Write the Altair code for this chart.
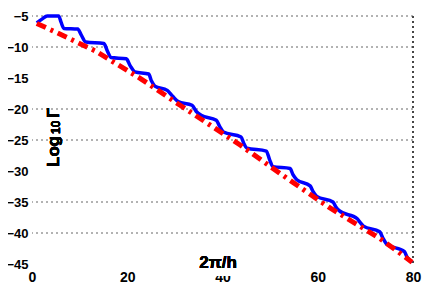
import altair as alt
import pandas as pd

# ---- data ----
blue_x = [1.0, 2.1, 3.2, 5.6, 6.1, 6.7, 9.6, 10.3, 11.3, 15.1, 15.8, 16.6, 19.8,
          20.6, 21.6, 24.5, 25.1, 25.8, 28.4, 29.6, 30.7, 33.6, 34.5, 35.5, 38.7,
          39.4, 40.2, 43.9, 44.5, 45.1, 49.2, 49.9, 50.6, 54.2, 54.8, 55.6, 58.4,
          59.0, 59.8, 63.2, 63.8, 64.5, 68.3, 68.9, 69.6, 73.0, 73.6, 74.5, 78.2,
          78.7, 79.2, 79.8]
blue_y = [-6.1, -5.5, -5.0, -5.0, -6.0, -7.0, -7.1, -8.0, -9.2, -9.45, -10.6, -11.7, -11.9,
          -13.0, -14.0, -14.35, -15.5, -16.3, -17.0, -18.0, -18.8, -19.4, -20.4, -21.0, -21.8,
          -22.8, -23.7, -24.5, -25.6, -26.3, -26.8, -28.2, -29.3, -29.6, -30.6, -31.4, -32.4,
          -33.3, -34.1, -35.0, -35.8, -36.4, -37.7, -38.3, -38.9, -39.8, -40.7, -41.8, -43.0,
          -43.8, -44.3, -44.7]
red_x = [1.0, 5.0, 13.2, 22.7, 31.1, 43.7, 52.1, 62.25, 73.1, 79.8]
red_y = [-6.2, -7.6, -10.6, -15.05, -19.4, -25.8, -30.4, -35.8, -40.9, -44.7]
x_ticks = [0, 20, 40, 60, 80]
y_ticks = [-5, -10, -15, -20, -25, -30, -35, -40, -45]
grid_levels = [-5, -10, -20, -25, -35, -40]
x_title = "2π/h"
y_title_main = "Log"
y_title_sub = "10"
y_title_sym = "Γ"

W, H = 381, 248
FONT = "Liberation Sans"

blue = pd.DataFrame({"x": blue_x, "y": blue_y, "i": list(range(len(blue_x)))})
red = pd.DataFrame({"x": red_x, "y": red_y, "i": list(range(len(red_x)))})
grid = pd.DataFrame({"g": grid_levels})

xs = alt.Scale(domain=[0, 80], nice=False, zero=False)
ys = alt.Scale(domain=[-45, -5], nice=False, zero=False)

xaxis = alt.Axis(values=x_ticks, title=None, grid=False, ticks=False, tickSize=0,
                 domain=False, labelFont=FONT, labelFontSize=14, labelFontWeight="bold",
                 labelColor="black", labelPadding=6, labelFlush=False, labelOverlap=False)
yaxis = alt.Axis(values=y_ticks, title=None, grid=False, ticks=False, tickSize=0,
                 domain=False, labelFont=FONT, labelFontSize=13, labelFontWeight="bold",
                 labelColor="black", labelPadding=4, labelFlush=False, labelOverlap=False)

gridlines = alt.Chart(grid).mark_rule(color="#666666", strokeDash=[2, 3], strokeWidth=1).encode(
    y=alt.Y("g:Q", scale=ys, axis=yaxis)
)
border = alt.Chart(grid).mark_rule(color="#444444", strokeDash=[2, 3], strokeWidth=1).encode(
    x=alt.X(datum=80, scale=xs, axis=xaxis)
)

blue_line = alt.Chart(blue).mark_line(color="#0000ff", strokeWidth=3.5, interpolate="monotone",
                                      strokeJoin="round").encode(
    x=alt.X("x:Q", scale=xs, axis=xaxis),
    y=alt.Y("y:Q", scale=ys, axis=yaxis),
    order="i:Q",
)
red_line = alt.Chart(red).mark_line(color="#ff0000", strokeWidth=5, strokeDash=[10, 5, 3, 5]).encode(
    x=alt.X("x:Q", scale=xs, axis=xaxis),
    y=alt.Y("y:Q", scale=ys, axis=yaxis),
    order="i:Q",
)

title_box = alt.Chart(grid).mark_rect(color="white").encode(
    x=alt.X(datum=35.2, scale=xs, axis=xaxis), x2=alt.X2(datum=43.0),
    y=alt.Y(datum=-42.8, scale=ys, axis=yaxis), y2=alt.Y2(datum=-46.9),
)
xt = alt.Chart(grid).mark_text(text=x_title, font=FONT, fontSize=17, fontWeight="bold",
                               align="center", baseline="alphabetic", color="black").encode(
    x=alt.value(186), y=alt.value(252)
)
yt1 = alt.Chart(grid).mark_text(text=y_title_main, font=FONT, fontSize=17, fontWeight="bold",
                                align="left", baseline="alphabetic", angle=270, color="black").encode(
    x=alt.value(27), y=alt.value(151)
)
yt2 = alt.Chart(grid).mark_text(text=y_title_sub, font=FONT, fontSize=12, fontWeight="bold",
                                align="left", baseline="alphabetic", angle=270, color="black").encode(
    x=alt.value(28), y=alt.value(118)
)
yt3 = alt.Chart(grid).mark_text(text=y_title_sym, font=FONT, fontSize=17, fontWeight="bold",
                                align="left", baseline="alphabetic", angle=270, color="black").encode(
    x=alt.value(27), y=alt.value(102)
)

chart = alt.layer(gridlines, border, blue_line, red_line, title_box, xt, yt1, yt2, yt3).properties(
    width=W, height=H,
    padding={"left": 24, "top": 8, "right": 12, "bottom": 26},
    autosize=alt.AutoSizeParams(type="none"),
    background="white",
).configure_view(stroke=None).configure_axis(labelOverlap=False, labelFlush=False)

chart.save("out.html", embed_options={"renderer": "svg", "actions": False})
